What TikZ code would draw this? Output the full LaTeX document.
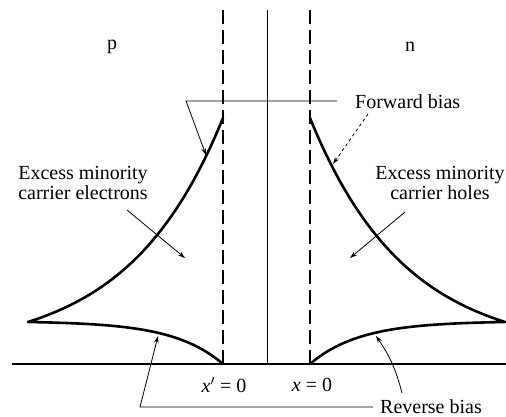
\documentclass[tikz,border=0pt]{standalone}
\usepackage{fontspec}
\setmainfont{Liberation Serif}
\usetikzlibrary{arrows.meta}
\begin{document}
\begin{tikzpicture}[x=1pt,y=-1pt,
  lbl/.style={font=\fontsize{20}{20}\selectfont, inner sep=0pt},
  curve/.style={line width=2.6pt, line join=round, line cap=round},
  thinline/.style={line width=0.8pt},
  tip/.style={-{Stealth[length=7pt,width=4.5pt]}},
  bound/.style={line width=1.3pt, dash pattern=on 14pt off 6pt},
]
\useasboundingbox (0,0) rectangle (506,416);
% boundaries and axis
\draw[bound] (223,10) -- (223,364);
\draw[bound] (310,10) -- (310,364);
\draw[line width=1pt] (267,10) -- (267,364);
\draw[line width=1.5pt] (12,364) -- (506,364);
% carrier curves
\draw[curve] plot[domain=0:195,samples=80] ({223-\x},{352-234*exp(-\x/95)})
  -- plot[domain=195:0,samples=80] ({223-\x},{364-42*(1-exp(-\x/50))/0.9798});
\draw[curve] plot[domain=0:195,samples=80] ({310+\x},{352-234*exp(-\x/95)})
  -- plot[domain=195:0,samples=80] ({310+\x},{364-42*(1-exp(-\x/50))/0.9798});
% labels
\node[lbl] (p) at (112,47) {p};
\node[lbl] (n) at (410,47) {n};
\node[lbl, anchor=base west] (fb) at (355,108) {Forward bias};
\node[lbl, anchor=base west] (rb) at (380,413) {Reverse bias};
\node[lbl, align=center] (el) at (83,183) {Excess minority\\carrier electrons};
\node[lbl, align=center] (hl) at (440,183) {Excess minority\\carrier holes};
\node[lbl] (x1) at (224,385) {\textit{x}$'$ = 0};
\node[lbl] (x2) at (312,385) {\textit{x} = 0};
% forward bias pointers
\coordinate (fbe) at (337,101);
\coordinate (fbc) at (186,101);
\coordinate (fbt) at (206,155);
\draw[thinline,tip] (fbe) -- (fbc) -- (fbt);
\coordinate (fbs) at (368,114);
\coordinate (fbr) at (333,164);
\draw[thinline,dashed,tip] (fbs) -- (fbr);
% excess carrier pointers
\coordinate (els) at (127,210);
\coordinate (elt) at (185,258);
\draw[thinline,tip] (els) -- (elt);
\coordinate (hls) at (405,212);
\coordinate (hlt) at (350,258);
\draw[thinline,tip] (hls) -- (hlt);
% reverse bias pointers
\coordinate (rbe) at (373,407);
\coordinate (rbc) at (140,407);
\coordinate (rbl) at (158,336);
\draw[thinline,tip] (rbe) -- (rbc) -- (rbl);
\coordinate (rbs) at (402,393);
\coordinate (rbr) at (376,336);
\draw[thinline,tip] (rbs) to[bend right=10] (rbr);
\end{tikzpicture}
\end{document}
